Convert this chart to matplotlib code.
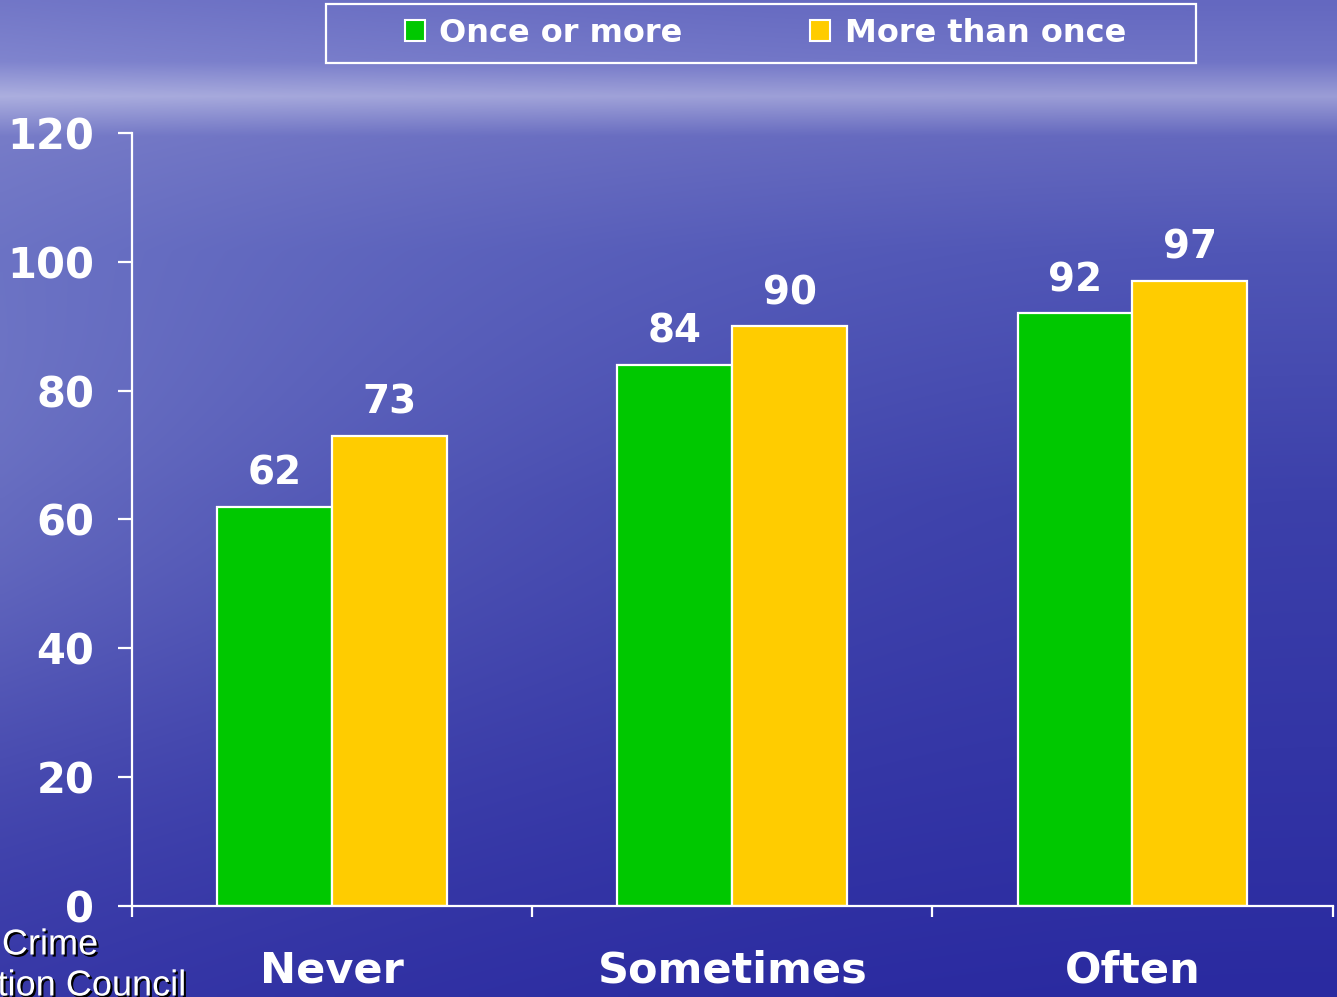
import numpy as np
import matplotlib
matplotlib.use('Agg')
import matplotlib.pyplot as plt
import matplotlib.patheffects as pe
from matplotlib.patches import Rectangle

categories = ['Never', 'Sometimes', 'Often']
once_or_more = [62, 84, 92]
more_than_once = [73, 90, 97]
series_names = ['Once or more', 'More than once']
y_ticks = [0, 20, 40, 60, 80, 100, 120]

plt.rcParams['font.family'] = ['Liberation Sans', 'DejaVu Sans']
BOLD = ['DejaVu Sans']

fig = plt.figure(figsize=(13.37, 9.97), dpi=100)

# Background: blue "water" gradient, lighter horizon near the top
bg = fig.add_axes([0, 0, 1, 1], zorder=-10)
bg.axis('off')
H, W = 200, 268
yy = np.linspace(0, 997, H)[:, None]
xx = np.linspace(0, 1, W)[None, :]
stops_y = [0, 60, 95, 135, 250, 500, 997]
stops_r = [100, 112, 155, 100, 80, 60, 42]
stops_g = [104, 116, 157, 104, 86, 64, 42]
stops_b = [192, 198, 214, 190, 182, 170, 160]
r = np.interp(yy, stops_y, stops_r)
g = np.interp(yy, stops_y, stops_g)
b = np.interp(yy, stops_y, stops_b)
light = (1 - xx) ** 2 * (0.3 + 0.7 * np.exp(-((yy - 480) / 280) ** 2))
img = np.stack([r + 42 * light, g + 44 * light, b + 22 * light], axis=-1)
img = np.clip(img, 0, 255) / 255
bg.imshow(img, aspect='auto', extent=[0, 1, 0, 1], interpolation='bilinear')
bg.set_xlim(0, 1)
bg.set_ylim(0, 1)

ax = fig.add_axes([0.0987, 0.0913, 0.8980, 0.7753])
ax.patch.set_alpha(0)

x = np.arange(len(categories))
w = 0.287
b1 = ax.bar(x - w / 2, once_or_more, w, color='#00c800', edgecolor='white', linewidth=1.6)
b2 = ax.bar(x + w / 2, more_than_once, w, color='#ffcc00', edgecolor='white', linewidth=1.6)

for bars, vals in ((b1, once_or_more), (b2, more_than_once)):
    for rect, v in zip(bars, vals):
        ax.annotate(str(v), (rect.get_x() + rect.get_width() / 2, v),
                    xytext=(0, 16), textcoords='offset points',
                    ha='center', va='baseline', color='white',
                    fontsize=28, fontweight='bold', family=BOLD)

ax.set_xlim(-0.5, 2.5)
ax.set_ylim(0, 120)
ax.set_yticks(y_ticks)
ax.set_xticks(x)
ax.set_xticklabels(categories)
ax.set_xticks([-0.5, 0.5, 1.5, 2.5], minor=True)

for s in ('top', 'right'):
    ax.spines[s].set_visible(False)
for s in ('left', 'bottom'):
    ax.spines[s].set_color('white')
    ax.spines[s].set_linewidth(1.6)

ax.tick_params(axis='y', colors='white', length=10, width=1.6, pad=17,
               labelsize=30)
ax.tick_params(axis='x', which='major', length=0, pad=31, colors='white',
               labelsize=31)
ax.tick_params(axis='x', which='minor', length=8, width=1.6, colors='white')
for lab in ax.get_xticklabels() + ax.get_yticklabels():
    lab.set_fontweight('bold')
    lab.set_family(BOLD)

# Legend with a separate square frame
handles = [Rectangle((0, 0), 1, 1, facecolor='#00c800', edgecolor='white', linewidth=1.5),
           Rectangle((0, 0), 1, 1, facecolor='#ffcc00', edgecolor='white', linewidth=1.5)]
leg = fig.legend(handles, series_names, loc='center', bbox_to_anchor=(0.5726, 0.9664),
                 ncol=2, frameon=False, handlelength=0.62, handleheight=0.62,
                 handletextpad=0.45, columnspacing=4.0,
                 prop={'size': 23, 'weight': 'bold', 'family': BOLD})
for t in leg.get_texts():
    t.set_color('white')
fig.patches.append(Rectangle((0.2438, 0.9368), 0.6507, 0.0592, transform=fig.transFigure,
                             fill=False, edgecolor='white', linewidth=1.6))

# Source note in the corner, partly cut off like the original slide
shadow = [pe.SimplePatchShadow(offset=(1.5, -1.5), shadow_rgbFace='black', alpha=1), pe.Normal()]
fig.text(98 / 1337, 1 - 945 / 997, 'National Crime', ha='right', va='center',
         color='white', fontsize=26, path_effects=shadow)
fig.text(186 / 1337, 1 - 986 / 997, 'Prevention Council', ha='right', va='center',
         color='white', fontsize=26, path_effects=shadow)

fig.savefig('out.png', dpi=100)
